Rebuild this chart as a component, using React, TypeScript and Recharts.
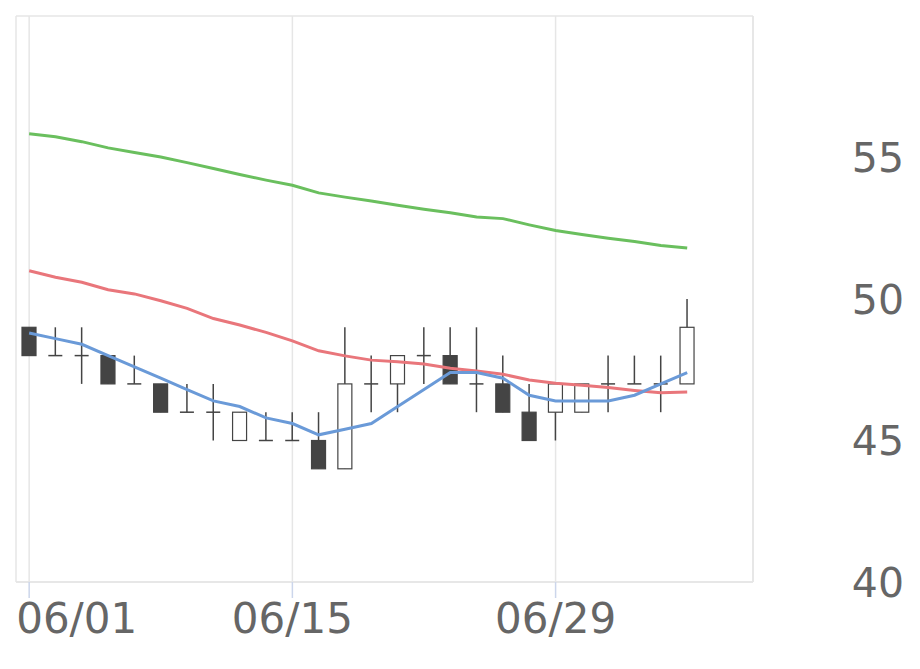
import React from "react";
import { ComposedChart, Bar, Line, XAxis, YAxis, CartesianGrid } from "recharts";

const dates = ["06/01","06/02","06/03","06/04","06/05","06/08","06/09","06/10","06/11","06/12","06/15","06/16","06/17","06/18","06/19","06/22","06/23","06/24","06/25","06/26","06/29","06/30","07/01","07/02","07/03","07/06","07/07","07/08"];
const opens = [49,48,48,48,47,47,46,46,45,45,45,45,44,47,47,48,48,47,47,46,46,46,47,47,47,47];
const highs = [49,49,49,48,48,47,47,47,46,46,46,46,49,48,48,49,49,49,48,47,47,47,48,48,48,50];
const lows = [48,48,47,47,47,46,46,45,45,45,45,44,44,46,46,47,47,46,46,45,45,46,46,47,46,47];
const closes = [48,48,48,47,47,46,46,46,46,45,45,44,47,47,48,48,47,47,46,45,47,47,47,47,47,49];
const ma5 = [48.8,48.6,48.4,48.0,47.6,47.2,46.8,46.4,46.2,45.8,45.6,45.2,45.4,45.6,46.2,46.8,47.4,47.4,47.2,46.6,46.4,46.4,46.4,46.6,47.0,47.4];
const ma25 = [51.0,50.77,50.59,50.33,50.18,49.94,49.67,49.31,49.08,48.82,48.52,48.17,47.99,47.84,47.78,47.7,47.55,47.46,47.34,47.14,47.02,46.95,46.87,46.77,46.69,46.71];
const ma75 = [55.84,55.73,55.56,55.34,55.18,55.02,54.82,54.61,54.4,54.2,54.02,53.75,53.6,53.46,53.31,53.17,53.05,52.9,52.84,52.62,52.42,52.28,52.15,52.03,51.89,51.8];
const yTicks = [40, 45, 50, 55, 60];

const data = dates.map((d, i) => ({
  date: d,
  open: opens[i] ?? null,
  high: highs[i] ?? null,
  low: lows[i] ?? null,
  close: closes[i] ?? null,
  ma5: ma5[i] ?? null,
  ma25: ma25[i] ?? null,
  ma75: ma75[i] ?? null,
}));

const FONT = "'DejaVu Sans', sans-serif";
const TEXT = "#666666";
const GRID = "#e6e6e6";
const DARK = "#444444";

const Candle = (props: any) => {
  const { x, y, width, height, payload } = props;
  if (!payload || payload.high == null) return null;
  const top = Math.min(y, y + height);
  const h = Math.abs(height);
  const { open, close, high, low } = payload;
  const span = high - low;
  const yOf = (v: number) => (span === 0 ? top : top + ((high - v) / span) * h);
  const cx = x + width / 2;
  const bTop = yOf(Math.max(open, close));
  const bBot = yOf(Math.min(open, close));
  const up = close > open;
  const items: any[] = [];
  items.push(<line key="w" x1={cx} x2={cx} y1={top} y2={top + h} stroke={DARK} strokeWidth={1.5} />);
  if (open === close) {
    items.push(<line key="d" x1={x} x2={x + width} y1={bTop} y2={bTop} stroke={DARK} strokeWidth={1.5} />);
  } else {
    items.push(
      <rect key="b" x={x} y={bTop} width={width} height={bBot - bTop} fill={up ? "#ffffff" : DARK} stroke={DARK} strokeWidth={1.2} />
    );
  }
  return <g>{items}</g>;
};

const XTick = (props: any) => {
  const { x, y, payload } = props;
  const first = payload.value === dates[0];
  return (
    <text x={first ? x - 13 : x} y={y} dy="0.71em" textAnchor={first ? "start" : "middle"} fill={TEXT} fontSize={42} fontFamily={FONT}>
      {payload.value}
    </text>
  );
};

const YTick = (props: any) => {
  const { x, y, payload } = props;
  if (payload.value === 60) return null;
  return (
    <text x={x + 151} y={y} dy="0.355em" textAnchor="end" fill={TEXT} fontSize={41} fontFamily={FONT}>
      {payload.value}
    </text>
  );
};

export default function App() {
  return (
    <ComposedChart width={912} height={661} data={data} margin={{ top: 8, right: 0, bottom: 0, left: 8 }}>
      <CartesianGrid stroke={GRID} strokeWidth={1.5} />
      <XAxis
        dataKey="date"
        interval={9}
        height={87}
        tickSize={16}
        tickMargin={5}
        tickLine={{ stroke: "#ccd6eb", strokeWidth: 1.5 }}
        axisLine={{ stroke: GRID, strokeWidth: 1.5 }}
        tick={<XTick />}
      />
      <YAxis
        yAxisId="left"
        orientation="left"
        width={0}
        domain={[40, 60]}
        ticks={yTicks}
        tick={false}
        tickLine={false}
        axisLine={{ stroke: GRID, strokeWidth: 1.5 }}
      />
      <YAxis
        yAxisId="right"
        orientation="right"
        width={167}
        domain={[40, 60]}
        ticks={yTicks}
        interval={0}
        tickSize={0}
        tickMargin={0}
        tickLine={false}
        axisLine={{ stroke: GRID, strokeWidth: 1.5 }}
        tick={<YTick />}
      />
      <Bar yAxisId="right" dataKey={(d: any) => (d.high == null ? null : [d.low, d.high])} barSize={14} shape={<Candle />} isAnimationActive={false} />
      <Line yAxisId="right" dataKey="ma75" stroke="#6abf5e" strokeWidth={3} dot={false} activeDot={false} type="linear" isAnimationActive={false} />
      <Line yAxisId="right" dataKey="ma25" stroke="#e9767b" strokeWidth={3} dot={false} activeDot={false} type="linear" isAnimationActive={false} />
      <Line yAxisId="right" dataKey="ma5" stroke="#6a9ad8" strokeWidth={3} dot={false} activeDot={false} type="linear" isAnimationActive={false} />
    </ComposedChart>
  );
}
